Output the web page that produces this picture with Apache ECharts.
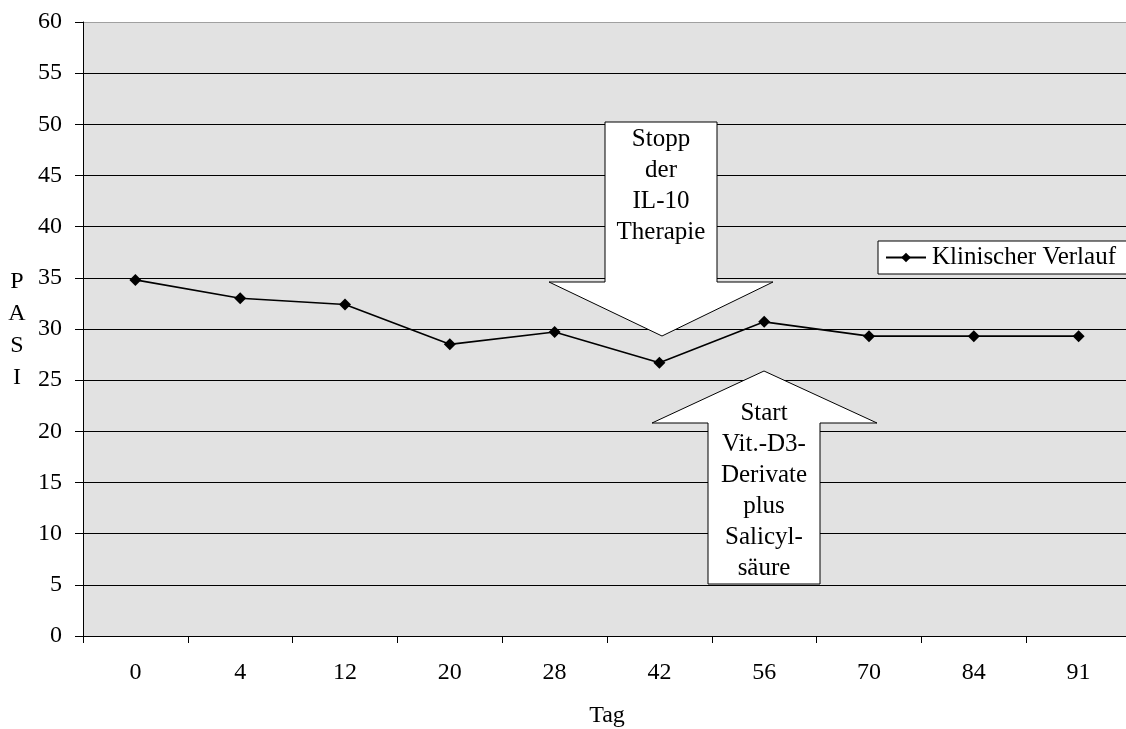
<!DOCTYPE html>
<html>
<head>
<meta charset="utf-8">
<script src="https://cdn.jsdelivr.net/npm/echarts@6/dist/echarts.min.js"></script>
<style>html,body{margin:0;padding:0;background:#fff}#c{width:1126px;height:729px}</style>
</head>
<body>
<div id="c"></div>
<script>
const categories = ['0','4','12','20','28','42','56','70','84','91'];
const pasiValues = [34.8, 33.0, 32.4, 28.5, 29.7, 26.7, 30.7, 29.3, 29.3, 29.3];
const seriesName = 'Klinischer Verlauf';
const yTicks = {min: 0, max: 60, interval: 5};
const stopText = 'Stopp\nder\nIL-10\nTherapie';
const startText = 'Start\nVit.-D3-\nDerivate\nplus\nSalicyl-\nsäure';

const FONT = 'Liberation Serif';
const chart = echarts.init(document.getElementById('c'), null, {renderer: 'canvas'});

const gridColors = [];
for (let v = yTicks.min; v <= yTicks.max; v += yTicks.interval) gridColors.push(v === yTicks.max ? '#a0a0a0' : '#000');

const option = {
  backgroundColor: '#fff',
  animation: false,
  grid: {left: 83, width: 1048, top: 22, height: 614, show: true, backgroundColor: '#e2e2e2', borderWidth: 0, containLabel: false, outerBoundsMode: 'none'},
  legend: {
    left: 878, top: 241, data: [seriesName],
    backgroundColor: '#fff', borderColor: '#000', borderWidth: 1, borderRadius: 0,
    padding: [4, 30, 4, 7],
    itemWidth: 40, itemHeight: 12, itemGap: 4,
    textStyle: {fontFamily: FONT, fontSize: 25, color: '#000', padding: [0, 0, 0, 1]}
  },
  xAxis: {
    type: 'category', data: categories, boundaryGap: true,
    name: 'Tag', nameLocation: 'middle', nameGap: 68,
    nameTextStyle: {fontFamily: FONT, fontSize: 24, color: '#000'},
    axisLine: {lineStyle: {color: '#000', width: 1}},
    axisTick: {show: true, length: 7, lineStyle: {color: '#000'}},
    axisLabel: {fontFamily: FONT, fontSize: 24, color: '#000', margin: 25},
    splitLine: {show: false}
  },
  yAxis: {
    type: 'value', min: yTicks.min, max: yTicks.max, interval: yTicks.interval,
    axisLine: {show: true, lineStyle: {color: '#000', width: 1}},
    axisTick: {show: true, length: 8, lineStyle: {color: '#000'}},
    axisLabel: {fontFamily: FONT, fontSize: 24, color: '#000', margin: 21},
    splitLine: {show: true, lineStyle: {color: gridColors, width: 1}}
  },
  series: [{
    name: seriesName, type: 'line', data: pasiValues,
    symbol: 'diamond', symbolSize: 12,
    itemStyle: {color: '#000'},
    lineStyle: {color: '#000', width: 1.6}
  }],
  graphic: [
    {type: 'text', x: 17, y: 266, style: {text: 'P\nA\nS\nI', fontFamily: FONT, fontSize: 24, lineHeight: 32, fill: '#000', align: 'center', verticalAlign: 'top'}},
    {type: 'polygon', z: 100, shape: {points: [[605,122],[717,122],[717,282],[773,282],[662,336],[549,282],[605,282]]}, style: {fill: '#fff', stroke: '#000', lineWidth: 1}},
    {type: 'text', z: 101, x: 661, y: 123.5, style: {text: stopText, fontFamily: FONT, fontSize: 25, lineHeight: 31, fill: '#000', align: 'center', verticalAlign: 'top'}},
    {type: 'polygon', z: 100, shape: {points: [[764,371],[877,423],[820,423],[820,584],[708,584],[708,423],[652,423]]}, style: {fill: '#fff', stroke: '#000', lineWidth: 1}},
    {type: 'text', z: 101, x: 764, y: 397.5, style: {text: startText, fontFamily: FONT, fontSize: 25, lineHeight: 31, fill: '#000', align: 'center', verticalAlign: 'top'}}
  ]
};
chart.setOption(option);
</script>
</body>
</html>
